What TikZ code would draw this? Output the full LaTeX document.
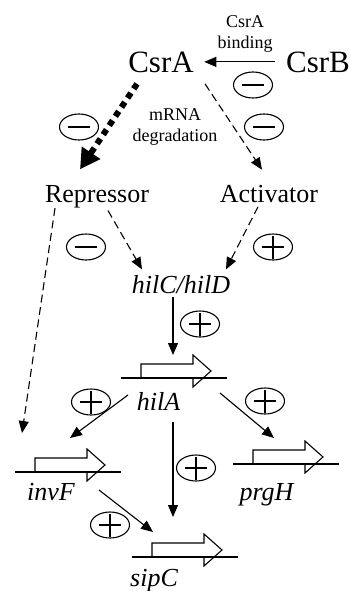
\documentclass[tikz,border=0pt]{standalone}
\usepackage{fontspec}
\setmainfont{Liberation Serif}
\usetikzlibrary{arrows.meta,shapes.geometric}
\begin{document}
\begin{tikzpicture}[x=1pt,y=-1pt,line width=1.1pt,
  big/.style={font=\fontsize{31}{36}\selectfont,inner sep=0pt,anchor=base},
  mid/.style={font=\fontsize{26}{30}\selectfont,inner sep=0pt,anchor=base},
  gname/.style={font=\fontsize{26}{30}\selectfont\itshape,inner sep=0pt,anchor=base},
  small/.style={font=\fontsize{18}{21}\selectfont,inner sep=0pt,align=center,anchor=north},
  sign/.style={draw,ellipse,minimum width=39pt,minimum height=26pt,inner sep=0pt},
  minus/.style={sign,path picture={
      \draw[line width=1.6pt]
        ([xshift=-11pt]path picture bounding box.center) --
        ([xshift=11pt]path picture bounding box.center);}},
  plus/.style={sign,path picture={
      \draw[line width=1.3pt]
        ([xshift=-11pt]path picture bounding box.center) --
        ([xshift=11pt]path picture bounding box.center)
        ([yshift=-11.5pt]path picture bounding box.center) --
        ([yshift=11.5pt]path picture bounding box.center);}},
  conn/.style={-{Triangle[length=12pt,width=10pt]}},
  dconn/.style={conn,dash pattern=on 8pt off 4.5pt},
  heavy/.style={line width=6pt,dash pattern=on 6pt off 5pt,
      -{Triangle[length=20pt,width=21pt]}},
  gene/.pic={
    \draw (-20,0) -- (86,0);
    \draw (0,0) -- (0,-14) -- (52,-14) -- (52,-23) -- (70,-7)
          -- (52,9) -- (52,0);
  }]
\useasboundingbox (0,0) rectangle (349,591);

% proteins and RNA
\node[big] (csra) at (161,73) {CsrA};
\node[big] (csrb) at (318,73) {CsrB};
\node[small] (bind) at (245,15) {CsrA\\binding};
\node[small] (degr) at (175,108) {mRNA\\degradation};
\node[mid] (rep) at (97,202) {Repressor};
\node[mid] (act) at (269,202) {Activator};
\node[gname] (hilc) at (181,293) {hilC/hilD};

% genes (origin = promoter on the DNA line)
\coordinate (hilAg) at (141,378);
\coordinate (invFg) at (35,472);
\coordinate (prgHg) at (253,464);
\coordinate (sipCg) at (152,557);
\pic at (hilAg) {gene};
\pic at (invFg) {gene};
\pic at (prgHg) {gene};
\pic at (sipCg) {gene};
\node[gname] (hila) at (158.5,410) {hilA};
\node[gname] (invf) at (51,500) {invF};
\node[gname] (prgh) at (266.5,500) {prgH};
\node[gname] (sipc) at (154,586) {sipC};

% regulation signs
\node[minus] (m1) at (253,85) {};
\node[minus] (m2) at (79,127) {};
\node[minus] (m3) at (264,127) {};
\node[minus] (m4) at (86,247) {};
\node[plus] (p1) at (273,247) {};
\node[plus] (p2) at (200,324) {};
\node[plus] (p3) at (91,402) {};
\node[plus] (p4) at (265,401) {};
\node[plus] (p5) at (196,468) {};
\node[plus] (p6) at (110,525) {};

% interactions
\draw[conn] ([shift={(-11,-1)}]csrb.west) -- ([shift={(10,-1)}]csra.east);
\draw[heavy] ([shift={(-24,10)}]csra.south) -- ([shift={(-17,-15)}]rep.north);
\draw[dconn] ([shift={(44,10)}]csra.south) -- ([shift={(-7,-14.5)}]act.north);
\draw[dconn] ([shift={(11,2.5)}]rep.south) -- ([shift={(-39,-5)}]hilc.north);
\draw[dconn] ([shift={(-11,4)}]act.south) -- ([shift={(45,-5)}]hilc.north);
\draw[dconn] ([shift={(-42,0)}]rep.south) -- ([shift={(-13,-39)}]invFg);
\draw[conn] ([shift={(-8,3)}]hilc.south) -- ([shift={(32,-23)}]hilAg);
\draw[conn] ([shift={(-13,17)}]hilAg) -- ([shift={(35,-34)}]invFg);
\draw[conn] ([shift={(79,15)}]hilAg) -- ([shift={(21,-26)}]prgHg);
\draw[conn] ([shift={(32,44)}]hilAg) -- ([shift={(21,-40)}]sipCg);
\draw[conn] ([shift={(64,18)}]invFg) -- ([shift={(1,-25)}]sipCg);
\end{tikzpicture}
\end{document}
